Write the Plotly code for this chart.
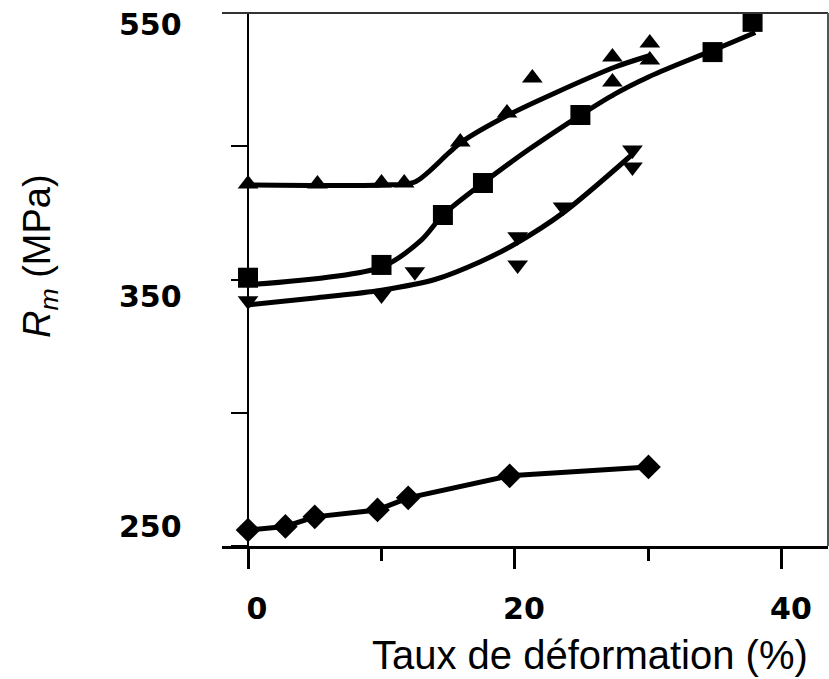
import plotly.graph_objects as go

# ---- data ----
# Diamonds (lowest series)
dia_x = [0, 2.8, 5.0, 9.7, 12.0, 19.6, 30.0]
dia_y = [259.0, 261.0, 266.4, 270.3, 277.1, 289.5, 294.5]

# Squares
sq_x = [0, 10.0, 14.6, 17.6, 24.9, 34.8, 37.8]
sq_y = [401.0, 408.2, 436.3, 454.3, 492.6, 528.0, 545.0]
sq_fit_x = [0, 10, 13, 14.6, 17.6, 21, 25, 27.5, 30, 32.5, 35, 38]
sq_fit_y = [397.0, 407.0, 422.3, 436.3, 454.3, 473.0, 493.0, 504.5, 514.0, 522.0, 529.5, 539.0]

# Upward triangles
tu_x = [0, 5.2, 10.0, 11.7, 15.9, 19.4, 21.3, 27.3, 27.3, 30.1, 30.1]
tu_y = [453.8, 453.8, 454.3, 454.3, 477.4, 493.7, 513.4, 525.2, 511.2, 533.1, 523.6]
tu_fit_x = [0, 10, 12.5, 15, 16, 19.5, 23, 27.5, 30]
tu_fit_y = [453.2, 453.2, 454.9, 471.0, 477.4, 492.6, 505.0, 519.6, 525.8]

# Downward triangles
td_x = [0, 10.0, 12.5, 20.2, 20.2, 23.6, 28.8, 28.8]
td_y = [388.0, 391.3, 404.3, 424.0, 408.2, 440.8, 472.9, 463.3]
td_fit_x = [0, 5, 10, 14, 17.4, 20, 23.6, 28.8]
td_fit_y = [385.7, 389.6, 394.0, 400.0, 410.0, 420.0, 437.5, 470.5]

x_ticks = [0, 20, 40]
y_tick_vals = [250, 325, 400, 475, 550]
y_tick_labels = ["550", "350", "250"]

BLACK = "#000000"
LW = 5

fig = go.Figure()

# fitted curves
for fx, fy in [(sq_fit_x, sq_fit_y), (tu_fit_x, tu_fit_y), (td_fit_x, td_fit_y)]:
    fig.add_trace(go.Scatter(x=fx, y=fy, mode="lines",
                             line=dict(color=BLACK, width=LW, shape="spline", smoothing=0.8),
                             showlegend=False, hoverinfo="skip"))

# diamonds with polyline
fig.add_trace(go.Scatter(x=dia_x, y=dia_y, mode="lines+markers",
                         line=dict(color=BLACK, width=LW),
                         marker=dict(symbol="diamond", size=19, color=BLACK),
                         showlegend=False))
fig.add_trace(go.Scatter(x=sq_x, y=sq_y, mode="markers",
                         marker=dict(symbol="square", size=20, color=BLACK),
                         showlegend=False))
fig.add_trace(go.Scatter(x=tu_x, y=tu_y, mode="markers",
                         marker=dict(symbol="triangle-up", size=18, color=BLACK),
                         showlegend=False))
fig.add_trace(go.Scatter(x=td_x, y=td_y, mode="markers",
                         marker=dict(symbol="triangle-down", size=18, color=BLACK),
                         showlegend=False))

L, R, T, B = 222, 1, 13, 133
W, H = 829, 679
pw = W - L - R
ph = H - T - B

def px(xpix):
    return (xpix - L) / pw

def py(ypix):
    return (H - B - ypix) / ph

fig.update_layout(
    width=W, height=H,
    margin=dict(l=L, r=R, t=T, b=B, pad=0),
    plot_bgcolor="white", paper_bgcolor="white",
    showlegend=False,
    xaxis=dict(
        range=[-1.95, 43.45], tickvals=x_ticks, ticktext=[str(v) for v in x_ticks],
        showgrid=False, zeroline=False,
        showline=True, linecolor=BLACK, linewidth=3,
        ticks="outside", ticklen=20, tickwidth=3, tickcolor=BLACK,
        minor=dict(tickvals=[10, 30], ticks="outside", ticklen=12, tickwidth=3, tickcolor=BLACK),
        tickfont=dict(family="DejaVu Sans", size=30, color=BLACK, weight="bold"),
        ticklabelshift=9, ticklabelstandoff=14,
    ),
    yaxis=dict(
        range=[250, 550], tickvals=y_tick_vals, showticklabels=False,
        showgrid=False, zeroline=False,
        anchor="free", position=px(248),
        showline=True, linecolor=BLACK, linewidth=2,
        ticks="outside", ticklen=16, tickwidth=2, tickcolor=BLACK,
    ),
)

# frame lines (top and right)
fig.add_shape(type="line", xref="paper", yref="paper", x0=0, x1=1, y0=1, y1=1,
              line=dict(color="#333333", width=2))
fig.add_shape(type="line", xref="paper", yref="paper", x0=1, x1=1, y0=0, y1=1,
              line=dict(color="#555555", width=2))

# y tick labels (placed where the reference shows them)
label_y_pix = [25, 296, 526]
for txt, yp in zip(y_tick_labels, label_y_pix):
    fig.add_annotation(text=txt, xref="paper", yref="paper", x=px(184), y=py(yp),
                       xanchor="right", yanchor="middle", showarrow=False,
                       font=dict(family="DejaVu Sans", size=30, color=BLACK, weight="bold"))

# axis titles
fig.add_annotation(text="<i>R</i><sub><i>m</i></sub> (MPa)", xref="paper", yref="paper",
                   x=px(40), y=py(256), xanchor="center", yanchor="middle",
                   textangle=-90, showarrow=False,
                   font=dict(family="Liberation Sans", size=38, color=BLACK))
fig.add_annotation(text="Taux de déformation (%)", xref="paper", yref="paper",
                   x=px(590), y=py(655), xanchor="center", yanchor="middle",
                   showarrow=False,
                   font=dict(family="Liberation Sans", size=40, color=BLACK))

fig.write_html("out.html")
